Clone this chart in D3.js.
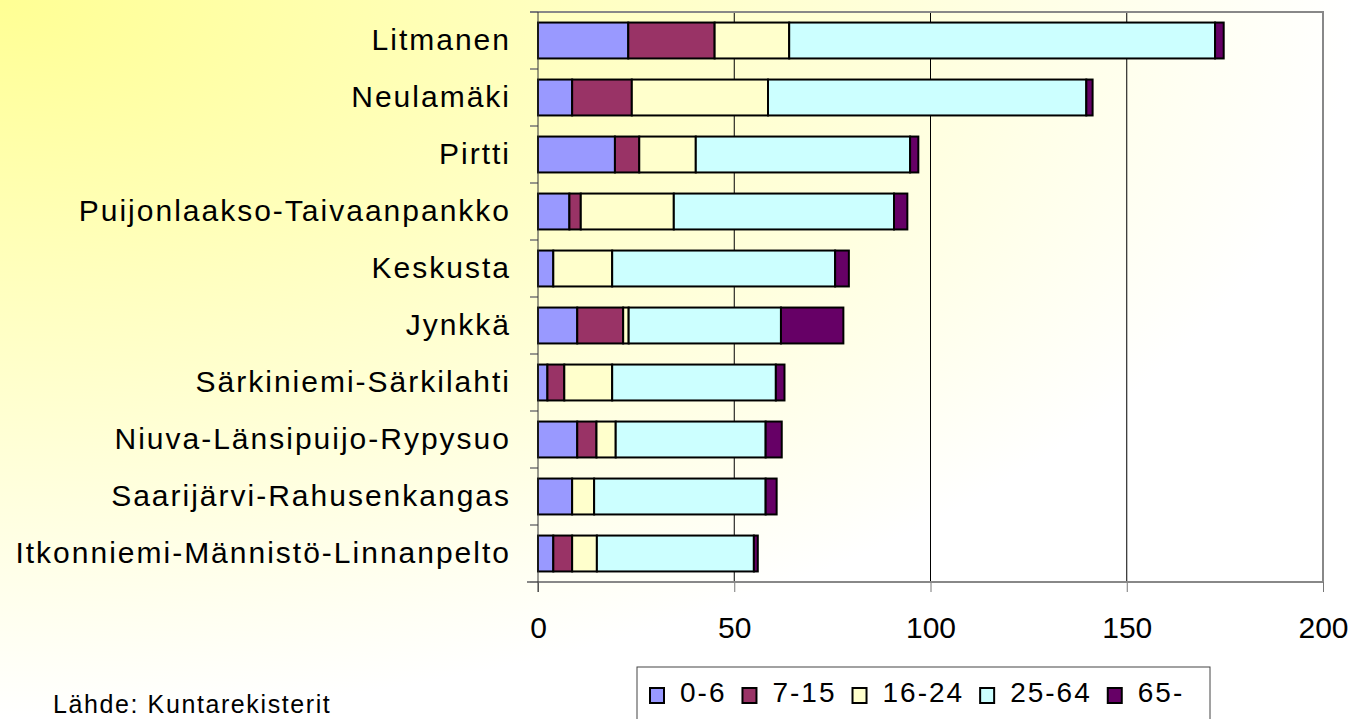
<!DOCTYPE html>
<html>
<head>
<meta charset="utf-8">
<script src="https://cdnjs.cloudflare.com/ajax/libs/d3/7.8.5/d3.min.js"></script>
<style>
  body { margin: 0; padding: 0; background: #ffffff; }
  svg { display: block; font-family: "Liberation Sans", Arial, sans-serif; }
</style>
</head>
<body>
<div id="chart"></div>
<script>
// data
var categories = ["Litmanen", "Neulamäki", "Pirtti", "Puijonlaakso-Taivaanpankko", "Keskusta",
    "Jynkkä", "Särkiniemi-Särkilahti", "Niuva-Länsipuijo-Rypysuo", "Saarijärvi-Rahusenkangas",
    "Itkonniemi-Männistö-Linnanpelto"];
var seriesNames = ["0-6", "7-15", "16-24", "25-64", "65-"];
var age0_6   = [23, 8.7, 19.6, 8, 3.9, 10, 2.4, 10, 8.7, 3.9];
var age7_15  = [22, 15.2, 6.2, 2.9, 0, 11.7, 4.3, 4.9, 0, 4.8];
var age16_24 = [19, 34.7, 14.4, 23.7, 15, 1.4, 12.2, 4.9, 5.6, 6.3];
var age25_64 = [108.5, 81.1, 54.6, 56.1, 56.8, 38.8, 41.7, 38.2, 43.7, 40];
var age65    = [2.2, 1.6, 2.1, 3.4, 3.5, 15.9, 2.2, 4.1, 2.8, 1];
var xTicks = [0, 50, 100, 150, 200];
var sourceText = "Lähde: Kuntarekisterit";

var colors = ["#9999ff", "#993366", "#ffffcc", "#ccffff", "#660066"];
var width = 1355, height = 719;
var plot = {left: 538, right: 1323, top: 12, bottom: 582};

var vis = d3.select('#chart').append('svg')
    .attr('width', width)
    .attr('height', height);

// yellow corner background
var grad = vis.append('defs').append('radialGradient')
    .attr('id', 'bg')
    .attr('cx', 0).attr('cy', 0).attr('r', 1)
    .attr('fx', 0).attr('fy', 0);
grad.append('stop').attr('offset', '0%').attr('stop-color', '#ffff94');
grad.append('stop').attr('offset', '100%').attr('stop-color', '#ffffff');
vis.append('rect')
    .attr('width', width).attr('height', height)
    .attr('fill', 'url(#bg)');

var series = [age0_6, age7_15, age16_24, age25_64, age65];
var rows = categories.map(function(c, i) {
    var r = {name: c};
    seriesNames.forEach(function(s, j) { r[s] = series[j][i]; });
    return r;
});
var stacked = d3.stack().keys(seriesNames)(rows);

var x = d3.scaleLinear().domain([0, 200]).range([plot.left, plot.right]);
var y = d3.scaleBand().domain(categories)
    .range([plot.top, plot.bottom])
    .paddingInner(0.37)
    .paddingOuter(0.185);

// gridlines
vis.selectAll('line.grid')
    .data(xTicks.slice(1, -1))
  .enter().append('line')
    .attr('class', 'grid')
    .attr('x1', function(d) { return x(d) }).attr('x2', function(d) { return x(d) })
    .attr('y1', plot.top).attr('y2', plot.bottom)
    .attr('stroke', '#000').attr('stroke-width', 1);

// plot border top + right
vis.append('path')
    .attr('d', 'M' + (plot.left - 8) + ',' + plot.top + 'H' + plot.right + 'V' + plot.bottom)
    .attr('fill', 'none').attr('stroke', '#888').attr('stroke-width', 2);

// bars
var layers = vis.selectAll('g.layer')
    .data(stacked)
  .enter().append('g')
    .attr('class', 'layer')
    .attr('fill', function(d, i) { return colors[i] });
layers.selectAll('rect')
    .data(function(d) { return d.filter(function(p) { return p[1] - p[0] > 0 }) })
  .enter().append('rect')
    .attr('x', function(p) { return x(p[0]) })
    .attr('y', function(p) { return y(p.data.name) })
    .attr('width', function(p) { return x(p[1]) - x(p[0]) })
    .attr('height', y.bandwidth())
    .attr('stroke', '#000')
    .attr('stroke-width', 2);

// x axis
var xAxis = d3.axisBottom(x).tickValues(xTicks).tickSize(10).tickPadding(25).tickSizeOuter(0);
var gx = vis.append('g')
    .attr('transform', 'translate(0,' + plot.bottom + ')')
    .call(xAxis);
gx.select('.domain').remove();
gx.selectAll('.tick line').attr('stroke', '#777');
gx.selectAll('.tick text')
    .attr('fill', '#000')
    .style('font-size', '30px')
    .style('font-family', '"Liberation Sans", Arial, sans-serif');
vis.append('line')
    .attr('x1', plot.left - 11).attr('x2', plot.right)
    .attr('y1', plot.bottom).attr('y2', plot.bottom)
    .attr('stroke', '#888').attr('stroke-width', 2);

// y axis: ticks between categories
var bounds = d3.range(categories.length + 1).map(function(i) { return plot.top + i * y.step() });
vis.selectAll('line.ytick')
    .data(bounds)
  .enter().append('line')
    .attr('class', 'ytick')
    .attr('x1', plot.left - 8).attr('x2', plot.left)
    .attr('y1', function(d) { return d }).attr('y2', function(d) { return d })
    .attr('stroke', '#777').attr('stroke-width', 1.5);
vis.append('line')
    .attr('x1', plot.left).attr('x2', plot.left)
    .attr('y1', plot.top).attr('y2', plot.bottom + 10)
    .attr('stroke', '#333').attr('stroke-width', 1);

vis.selectAll('text.cat')
    .data(categories)
  .enter().append('text')
    .attr('class', 'cat')
    .attr('x', plot.left - 27)
    .attr('y', function(d) { return y(d) + y.bandwidth() / 2 })
    .attr('dy', '0.3em')
    .attr('text-anchor', 'end')
    .style('font-size', '30px')
    .style('letter-spacing', '2px')
    .text(function(d) { return d });

// legend
var legend = vis.append('g').attr('class', 'legend');
legend.append('rect')
    .attr('x', 637).attr('y', 667)
    .attr('width', 573).attr('height', 80)
    .attr('fill', 'none').attr('stroke', '#444').attr('stroke-width', 1);
var lx = 650;
seriesNames.forEach(function(s, i) {
    legend.append('rect')
        .attr('x', lx).attr('y', 688)
        .attr('width', 14).attr('height', 15)
        .attr('fill', colors[i])
        .attr('stroke', '#000').attr('stroke-width', 2);
    var t = legend.append('text')
        .attr('x', lx + 30).attr('y', 702)
        .style('font-size', '28px')
        .style('letter-spacing', '2px')
        .text(s);
    lx += 30 + t.node().getComputedTextLength() + 16;
});

// source
vis.append('text')
    .attr('x', 53).attr('y', 713)
    .style('font-size', '25px')
    .style('letter-spacing', '1.6px')
    .text(sourceText);
</script>
</body>
</html>
